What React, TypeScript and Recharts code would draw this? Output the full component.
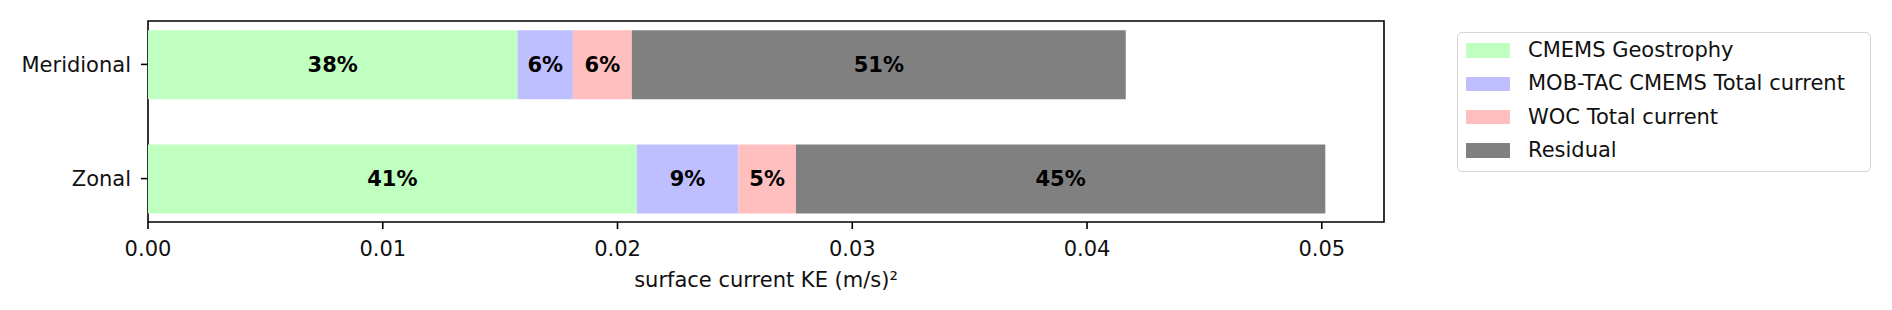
import React from "react";
import { BarChart, Bar, XAxis, YAxis, Legend, LabelList, ReferenceArea } from "recharts";

const CATEGORIES = ["Meridional", "Zonal"];
const GEOSTROPHY = [0.01574, 0.02082];
const MOBTAC = [0.00236, 0.00433];
const WOC = [0.00251, 0.00245];
const RESIDUAL = [0.02104, 0.02255];

const GEO_PCT = [38, 41];
const MOBTAC_PCT = [6, 9];
const WOC_PCT = [6, 5];
const RESIDUAL_PCT = [51, 45];

const X_TICKS = [0, 0.01, 0.02, 0.03, 0.04, 0.05];
const X_MAX = 0.05265;
const Y_DOMAIN = [-0.38, 1.38];

const SERIES = [
  { key: "geo", name: "CMEMS Geostrophy", color: "#bfffbf" },
  { key: "mob", name: "MOB-TAC CMEMS Total current", color: "#bfbfff" },
  { key: "woc", name: "WOC Total current", color: "#ffbfbf" },
  { key: "res", name: "Residual", color: "#808080" },
];

const FONT = "'DejaVu Sans', sans-serif";

const data = CATEGORIES.map((name, i) => ({
  name,
  pos: i,
  geo: GEOSTROPHY[i],
  mob: MOBTAC[i],
  woc: WOC[i],
  res: RESIDUAL[i],
  geoPct: GEO_PCT[i],
  mobPct: MOBTAC_PCT[i],
  wocPct: WOC_PCT[i],
  resPct: RESIDUAL_PCT[i],
}));

function LegendBox() {
  return (
    <div
      style={{
        width: 414,
        height: 140,
        boxSizing: "border-box",
        border: "1.5px solid #d6d6d6",
        borderRadius: 5,
        background: "#fff",
        paddingTop: 1,
        fontFamily: FONT,
      }}
    >
      {SERIES.map((s) => (
        <div key={s.key} style={{ display: "flex", alignItems: "center", height: 33.3 }}>
          <div style={{ width: 44, height: 14.5, marginLeft: 7.5, background: s.color }} />
          <span style={{ marginLeft: 18.5, fontSize: 21, color: "#111", lineHeight: 1 }}>{s.name}</span>
        </div>
      ))}
    </div>
  );
}

const labelStyle = { fill: "#000", fontSize: 21, fontWeight: "bold" as const, fontFamily: FONT };

export default function App() {
  return (
    <div style={{ position: "absolute", left: 0, top: 0, width: 1892, height: 310, background: "#fff" }}>
      <BarChart
        width={1892}
        height={310}
        data={data}
        layout="vertical"
        margin={{ top: 21, right: 508, bottom: 0, left: 0 }}
      >
        <XAxis
          type="number"
          domain={[0, X_MAX]}
          ticks={X_TICKS}
          allowDataOverflow
          height={88}
          tickFormatter={(v: number) => v.toFixed(2)}
          tickSize={7}
          tickMargin={12}
          axisLine={false}
          tickLine={{ stroke: "#000", strokeWidth: 1.6 }}
          tick={{ fill: "#111", fontSize: 21, fontFamily: FONT }}
          label={{ value: "surface current KE (m/s)²", position: "insideBottom", offset: 23, fill: "#111", fontSize: 21, fontFamily: FONT }}
        />
        <YAxis
          type="number"
          dataKey="pos"
          domain={Y_DOMAIN}
          ticks={[0, 1]}
          allowDataOverflow
          width={148}
          tickFormatter={(v: number) => CATEGORIES[v] ?? ""}
          tickSize={7}
          tickMargin={10}
          axisLine={false}
          tickLine={{ stroke: "#000", strokeWidth: 1.6 }}
          tick={{ fill: "#111", fontSize: 21, fontFamily: FONT }}
        />
        {SERIES.map((s) => (
          <Bar key={s.key} dataKey={s.key} name={s.name} stackId="a" fill={s.color} barSize={69} isAnimationActive={false}>
            <LabelList
              dataKey={`${s.key}Pct`}
              position="center"
              formatter={(v: any) => `${v}%`}
              style={labelStyle}
            />
          </Bar>
        ))}
        <ReferenceArea
          x1={0}
          x2={X_MAX}
          y1={Y_DOMAIN[0]}
          y2={Y_DOMAIN[1]}
          fill="none"
          fillOpacity={0}
          stroke="#000"
          strokeWidth={1.6}
          ifOverflow="visible"
        />
        <Legend
          layout="vertical"
          align="center"
          verticalAlign="middle"
          wrapperStyle={{ position: "absolute", left: 1457, top: 32, width: 414, height: 140 }}
          content={() => <LegendBox />}
        />
      </BarChart>
    </div>
  );
}
